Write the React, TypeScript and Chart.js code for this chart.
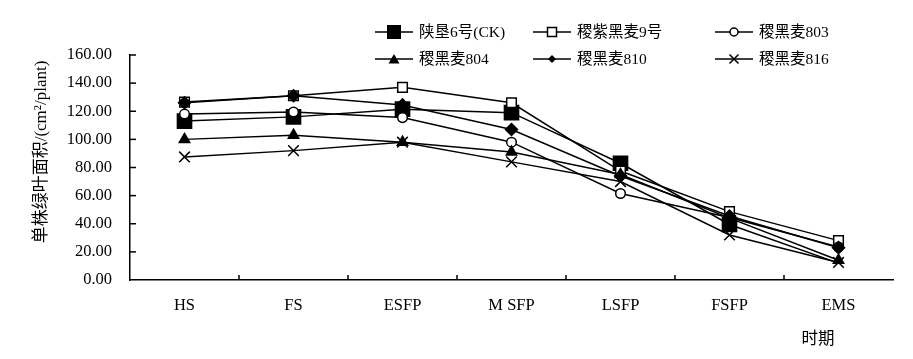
import { useEffect, useRef } from 'react';
import { Chart, registerables } from 'chart.js';

Chart.register(...registerables);

const categories = ['HS', 'FS', 'ESFP', 'M SFP', 'LSFP', 'FSFP', 'EMS'];
const seriesNames = ['陕垦6号(CK)', '稷紫黑麦9号', '稷黑麦803', '稷黑麦804', '稷黑麦810', '稷黑麦816'];
const ck = [113, 116, 121.5, 119, 83, 39.5, 12];
const jz9 = [126.5, 131, 137, 126, 77.5, 48.6, 28];
const j803 = [118, 119.5, 115.5, 98, 61.5, 44.5, 23.5];
const j804 = [100, 103, 98, 91, 75, 44, 14];
const j810 = [126, 131, 124.5, 107, 74, 45.5, 23];
const j816 = [87.5, 92, 98, 84, 70, 32, 12.5];
const yMin = 0;
const yMax = 160;
const yStep = 20;
const yTitle = '单株绿叶面积/(cm²/plant)';
const xTitle = '时期';

const FONT = '"Liberation Serif", "Noto Sans CJK SC", serif';

type Marker = 'rect' | 'openRect' | 'circle' | 'triangle' | 'rectRot' | 'crossRot';
const markers: Marker[] = ['rect', 'openRect', 'circle', 'triangle', 'rectRot', 'crossRot'];

function drawMarker(ctx: CanvasRenderingContext2D, m: Marker, x: number, y: number, s: number) {
  ctx.save();
  ctx.strokeStyle = '#000';
  ctx.fillStyle = '#000';
  ctx.lineWidth = 1.5;
  ctx.beginPath();
  if (m === 'rect') {
    ctx.rect(x - s / 2, y - s / 2, s, s);
    ctx.fill();
  } else if (m === 'openRect') {
    ctx.fillStyle = '#fff';
    ctx.rect(x - s / 2, y - s / 2, s, s);
    ctx.fill();
    ctx.stroke();
  } else if (m === 'circle') {
    ctx.fillStyle = '#fff';
    ctx.arc(x, y, s / 2, 0, Math.PI * 2);
    ctx.fill();
    ctx.stroke();
  } else if (m === 'triangle') {
    ctx.moveTo(x, y - s * 0.45);
    ctx.lineTo(x + s / 2, y + s * 0.4);
    ctx.lineTo(x - s / 2, y + s * 0.4);
    ctx.closePath();
    ctx.fill();
  } else if (m === 'rectRot') {
    ctx.moveTo(x, y - s / 2);
    ctx.lineTo(x + s / 2, y);
    ctx.lineTo(x, y + s / 2);
    ctx.lineTo(x - s / 2, y);
    ctx.closePath();
    ctx.fill();
  } else {
    ctx.moveTo(x - s / 2, y - s / 2);
    ctx.lineTo(x + s / 2, y + s / 2);
    ctx.moveTo(x + s / 2, y - s / 2);
    ctx.lineTo(x - s / 2, y + s / 2);
    ctx.stroke();
  }
  ctx.restore();
}

const legendSizes = [14, 9, 8, 11, 8, 9];
const legendCols = [375, 533, 715];
const legendRows = [32, 59];

const decorPlugin = {
  id: 'decor',
  afterDraw(chart: any) {
    const ctx: CanvasRenderingContext2D = chart.ctx;
    const xs = chart.scales.x;
    const ys = chart.scales.y;
    ctx.save();
    ctx.strokeStyle = '#000';
    ctx.lineWidth = 1.5;
    // inward y ticks
    for (let v = yMin + yStep; v <= yMax; v += yStep) {
      const py = ys.getPixelForValue(v);
      ctx.beginPath();
      ctx.moveTo(xs.left, py);
      ctx.lineTo(xs.left + 6, py);
      ctx.stroke();
    }
    // inward x ticks between categories
    const n = categories.length;
    for (let i = 1; i < n; i++) {
      const px = xs.left + ((xs.right - xs.left) * i) / n;
      ctx.beginPath();
      ctx.moveTo(px, ys.bottom);
      ctx.lineTo(px, ys.bottom - 5);
      ctx.stroke();
    }
    // y title
    ctx.fillStyle = '#000';
    ctx.font = `17px ${FONT}`;
    ctx.textAlign = 'center';
    ctx.textBaseline = 'middle';
    ctx.save();
    ctx.translate(42, 152);
    ctx.rotate(-Math.PI / 2);
    ctx.fillText(yTitle, 0, 0);
    ctx.restore();
    // x title
    ctx.font = `16.5px ${FONT}`;
    ctx.fillText(xTitle, 818, 340);
    // legend
    ctx.font = `15.5px ${FONT}`;
    ctx.textAlign = 'left';
    seriesNames.forEach((name, i) => {
      const col = i % 3;
      const row = Math.floor(i / 3);
      const x0 = legendCols[col];
      const y = legendRows[row];
      ctx.beginPath();
      ctx.lineWidth = 1.5;
      ctx.moveTo(x0, y);
      ctx.lineTo(x0 + 38, y);
      ctx.stroke();
      drawMarker(ctx, markers[i], x0 + 19, y, legendSizes[i]);
      ctx.fillStyle = '#000';
      ctx.fillText(name, x0 + 44, y + 1);
    });
    ctx.restore();
  },
};

export default function App() {
  const ref = useRef<HTMLCanvasElement | null>(null);
  useEffect(() => {
    if (!ref.current) return;
    const series = [ck, jz9, j803, j804, j810, j816];
    const styleFor = (i: number) => {
      switch (markers[i]) {
        case 'rect':
          return { pointStyle: 'rect', pointRadius: ck.map((_, k) => (k === ck.length - 1 ? 0 : 10)), pointBackgroundColor: '#000' };
        case 'openRect':
          return { pointStyle: 'rect', pointRadius: 6.8, pointBackgroundColor: '#fff' };
        case 'circle':
          return { pointStyle: 'circle', pointRadius: 4.8, pointBackgroundColor: '#fff' };
        case 'triangle':
          return { pointStyle: 'triangle', pointRadius: 6, pointBackgroundColor: '#000' };
        case 'rectRot':
          return { pointStyle: 'rectRot', pointRadius: 6, pointBackgroundColor: '#000' };
        default:
          return { pointStyle: 'crossRot', pointRadius: 7.5, pointBackgroundColor: '#000' };
      }
    };
    const chart = new Chart(ref.current, {
      type: 'line',
      data: {
        labels: categories,
        datasets: series.map((d, i) => ({
          label: seriesNames[i],
          data: d,
          borderColor: '#000',
          borderWidth: 1.5,
          pointBorderColor: '#000',
          pointBorderWidth: 1.5,
          tension: 0,
          fill: false,
          order: series.length - i,
          ...styleFor(i),
        })) as any,
      },
      options: {
        animation: false,
        responsive: false,
        maintainAspectRatio: false,
        layout: { padding: { top: 55, right: 20, left: 0, bottom: 0 } },
        plugins: { legend: { display: false }, tooltip: { enabled: false }, title: { display: false } },
        scales: {
          x: {
            type: 'category',
            offset: true,
            grid: { display: false, drawTicks: false },
            border: { display: true, color: '#000', width: 1.5 },
            ticks: { color: '#000', font: { family: FONT, size: 16.5 }, padding: 16, maxRotation: 0, autoSkip: false },
            afterFit: (s: any) => {
              s.height = 79;
            },
          },
          y: {
            min: yMin,
            max: yMax,
            grid: { display: false, drawTicks: false },
            border: { display: true, color: '#000', width: 1.5 },
            ticks: {
              stepSize: yStep,
              color: '#000',
              font: { family: FONT, size: 16.5 },
              padding: 18,
              callback: (v: any) => Number(v).toFixed(2),
            },
            afterFit: (s: any) => {
              s.width = 130;
            },
          },
        },
      },
      plugins: [decorPlugin],
    });
    return () => chart.destroy();
  }, []);
  return (
    <div style={{ position: 'absolute', left: 0, top: 0, width: 913, height: 359, background: '#fff' }}>
      <canvas ref={ref} width={913} height={359} style={{ width: 913, height: 359, display: 'block' }} />
    </div>
  );
}
